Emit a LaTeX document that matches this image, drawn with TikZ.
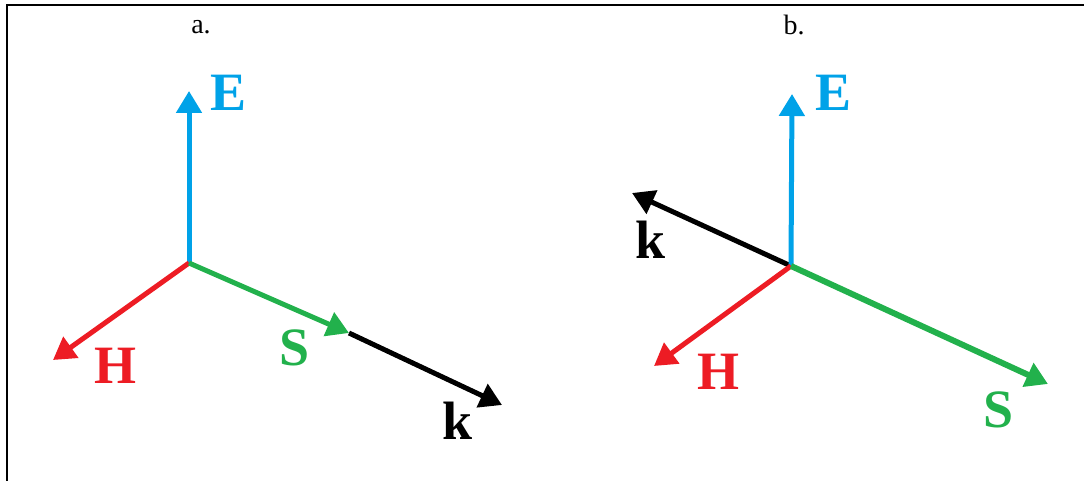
\documentclass[tikz,border=0pt]{standalone}
\usepackage{fontspec}
\setmainfont{Liberation Serif}
\usetikzlibrary{arrows.meta, positioning}
\definecolor{bleu}{RGB}{0,162,232}
\definecolor{rouge}{RGB}{237,28,36}
\definecolor{vert}{RGB}{34,177,76}

\begin{document}
\begin{tikzpicture}[x=1pt, y=-1pt,
	vec/.style={line width=5pt, -{Triangle[length=22pt,width=25pt]}},
	lab/.style={font=\fontsize{54}{54}\selectfont\bfseries, inner sep=0pt},
	titre/.style={font=\fontsize{28}{28}\selectfont, inner sep=0pt}]
	\useasboundingbox (0,0) rectangle (1084,481);
	\draw[line width=2pt] (7,481) -- (7,5) -- (1084,5);
	% a. : k dans le sens de S
	\node[titre] (ta) at (201,27) {a.};
	\coordinate (Oa) at (189,263);
	\coordinate (Ea) at (189,91);
	\coordinate (Ha) at (53,360);
	\coordinate (Sa) at (349,333);
	\coordinate (ka) at (502,405);
	\draw[vec] (Sa) -- (ka);
	\draw[vec, bleu] (Oa) -- (Ea);
	\draw[vec, rouge] (Oa) -- (Ha);
	\draw[vec, vert] (Oa) -- (Sa);
	\node[lab, bleu] (lEa) at (229,93) {E};
	\node[lab, rouge] (lHa) at (115,366) {H};
	\node[lab, vert] (lSa) at (295,348) {S};
	\node[lab] (lka) at (458,421) {k};
	% b. : k oppose a S
	\node[titre] (tb) at (794,25) {b.};
	\coordinate (Ob) at (791,266);
	\coordinate (Eb) at (792,94);
	\coordinate (Hb) at (654,366);
	\coordinate (Sb) at (1048,384);
	\coordinate (kb) at (632,193);
	\draw[vec] (Ob) -- (kb);
	\draw[vec, bleu] (Ob) -- (Eb);
	\draw[vec, rouge] (Ob) -- (Hb);
	\draw[vec, vert, line width=6pt] (Ob) -- (Sb);
	\node[lab, bleu] (lEb) at (833,93) {E};
	\node[lab, rouge] (lHb) at (718,372) {H};
	\node[lab, vert] (lSb) at (999,410) {S};
	\node[lab] (lkb) at (651,240) {k};
\end{tikzpicture}
\end{document}
